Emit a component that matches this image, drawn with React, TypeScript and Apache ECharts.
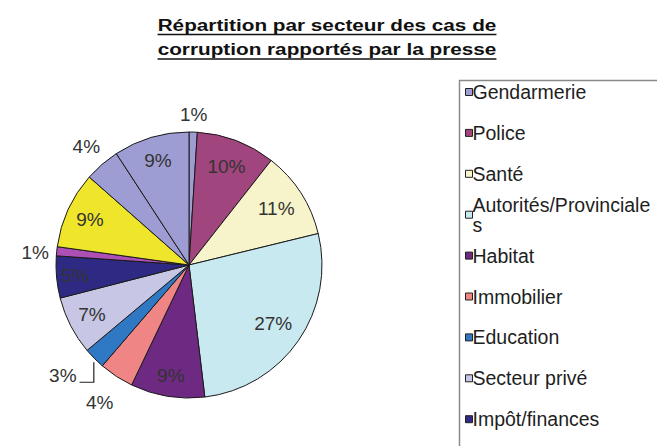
import React, { useEffect, useRef } from 'react';
import * as echarts from 'echarts';

const titleLines = ['Répartition par secteur des cas de', 'corruption rapportés par la presse'];
const categories = [
  'Gendarmerie', 'Police', 'Santé', 'Autorités/Provinciales', 'Habitat', 'Immobilier',
  'Education', 'Secteur privé', 'Impôt/finances', 'Justice', 'Collectivités locales', 'Douanes', 'Autres',
];
// shares; labels show them rounded to whole percents
const values = [1.0, 9.6, 10.6, 26.9, 9.0, 4.2, 2.6, 7.1, 5.1, 1.1, 9.3, 4.3, 9.2];
const legendVisibleCount = 9;

// styling / layout (not data)
const colors = [
  '#9d9dd3', '#a0457e', '#f7f4cb', '#c9e9f0', '#6e2a82', '#f08585', '#2f78c4',
  '#c7c6e4', '#2e2a84', '#ad4fb5', '#efe52a', '#9d9dd3', '#9d9dd3',
];
const labelRadius = [1.13, 0.79, 0.78, 0.77, 0.84, 1.23, 1.26, 0.82, 0.86, 1.16, 0.82, 1.18, 0.82];
const labelAngleShift = [0, 0, 0, 0, 0, 0, 3.5, 0, 0, -1.2, 0, 0, 0];
const CX = 189, CY = 265, R = 133;
const FONT = '"Liberation Sans", Arial, sans-serif';
const WRAPPED = 'Autorités/Provinciales';

function measure(text: string, font: string): number {
  const ctx = document.createElement('canvas').getContext('2d');
  if (!ctx) return text.length * 9;
  ctx.font = font;
  return ctx.measureText(text).width;
}

export default function App() {
  const ref = useRef<HTMLDivElement>(null);
  useEffect(() => {
    if (!ref.current) return;
    const chart = echarts.init(ref.current, undefined, { renderer: 'svg' });
    const total = values.reduce((a, b) => a + b, 0);
    const cum: number[] = [];
    values.reduce((acc, v, i) => { cum[i] = acc; return acc + v; }, 0);
    const polar = (deg: number, d: number) => {
      const a = (deg * Math.PI) / 180;
      return [CX + Math.sin(a) * d, CY - Math.cos(a) * d];
    };

    const titleFontSize = 17;
    const titleFont = `bold ${titleFontSize}px "Liberation Sans"`;
    const titleScaleX = 1.22;
    const titleCenterX = 327;
    const titleYs = [25, 49];
    const underlineYs = [34.5, 59];
    const graphics: any[] = [];
    titleLines.forEach((t, i) => {
      graphics.push({
        type: 'text', x: titleCenterX, y: titleYs[i], scaleX: titleScaleX,
        style: {
          text: t, x: 0, y: 0, fill: '#111', font: `bold ${titleFontSize}px ${FONT}`,
          textAlign: 'center', textVerticalAlign: 'middle',
        },
      });
      const w = measure(t, titleFont) * titleScaleX;
      graphics.push({
        type: 'line',
        shape: { x1: titleCenterX - w / 2, y1: underlineYs[i], x2: titleCenterX + w / 2, y2: underlineYs[i] },
        style: { stroke: '#111', lineWidth: 1.3 },
      });
    });
    graphics.push({
      type: 'rect', shape: { x: 459.5, y: 80.5, width: 240, height: 420 },
      style: { fill: 'none', stroke: '#8a8a8a', lineWidth: 1.5 }, z: -1,
    });

    const legendBase = 92, legendStep = 40.9, lineH = 20;
    const legends = categories.slice(0, legendVisibleCount).map((name, i) => {
      const mid = legendBase + legendStep * i;
      const wrap = name === WRAPPED;
      return {
        orient: 'vertical', left: 465, top: wrap ? mid - 1.5 * lineH : mid - lineH / 2,
        padding: 0,
        data: [name], icon: 'rect', itemWidth: 7, itemHeight: 7, selectedMode: false,
        itemStyle: { borderColor: '#222', borderWidth: 1 },
        formatter: (n: string) => (n === WRAPPED ? 'Autorités/Provinciale\ns' : n),
        textStyle: {
          fontFamily: FONT, fontSize: 19.5, color: '#1e1e1e', lineHeight: lineH,
          padding: wrap ? [lineH, 0, 0, -5] : [0, 0, 0, -5],
        },
      };
    });

    chart.setOption({
      animation: false,
      backgroundColor: '#fff',
      graphic: graphics,
      legend: legends,
      series: [{
        type: 'pie',
        center: [CX, CY], radius: R, startAngle: 90, clockwise: true,
        avoidLabelOverlap: false,
        percentPrecision: 0,
        itemStyle: { borderColor: '#1a1a1a', borderWidth: 1 },
        label: {
          show: true, position: 'outside', formatter: '{d}%',
          fontFamily: FONT, fontSize: 19, color: '#333',
        },
        labelLine: { show: false },
        emphasis: { disabled: true },
        labelLayout: (params: any) => {
          const i = params.dataIndex;
          const start = (cum[i] / total) * 360;
          const span = (values[i] / total) * 360;
          const [x, y] = polar(start + span / 2 + labelAngleShift[i], R * labelRadius[i]);
          const res: any = { x, y, align: 'center', verticalAlign: 'middle' };
          if (categories[i] === 'Education') {
            const p0 = polar(start + span * 0.4, R + 3);
            const w = params.labelRect ? params.labelRect.width : 28;
            res.labelLinePoints = [p0, [p0[0], y + 7], [x + w / 2 + 3, y + 7]];
          }
          return res;
        },
        data: categories.map((name, i) => ({
          name, value: values[i],
          itemStyle: { color: colors[i] },
          ...(name === 'Education'
            ? { labelLine: { show: true, length: 5, length2: 5, lineStyle: { color: '#222', width: 1.2 } } }
            : {}),
        })),
      }],
    });
    return () => chart.dispose();
  }, []);
  return <div ref={ref} style={{ position: 'absolute', left: 0, top: 0, width: 657, height: 446 }} />;
}
